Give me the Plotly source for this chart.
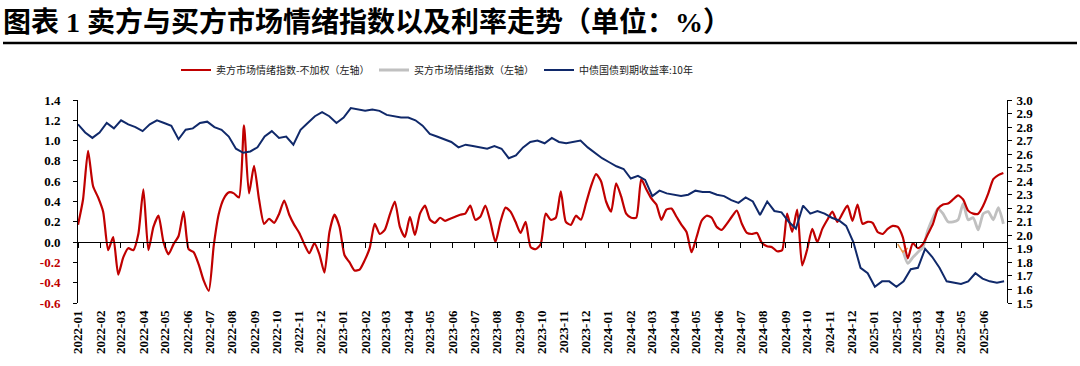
import pandas as pd
import plotly.graph_objects as go

# ---------------- data ----------------
title_text = "图表 1 卖方与买方市场情绪指数以及利率走势（单位：%）"
seller_name = "卖方市场情绪指数-不加权（左轴）"
buyer_name = "买方市场情绪指数（左轴）"
yield_name = "中债国债到期收益率:10年"

# weekly seller sentiment index (left axis)
seller_dates = pd.date_range("2022-01-01", "2025-06-28", periods=185)
seller_values = [
    0.17, 0.42, 0.90, 0.55, 0.44, 0.30, -0.08, 0.05, -0.32, -0.15,
    -0.06, -0.08, 0.08, 0.52, -0.08, 0.15, 0.26, 0.00, -0.12, -0.02,
    0.06, 0.30, -0.07, -0.10, -0.22, -0.38, -0.48, -0.03, 0.28, 0.43,
    0.49, 0.48, 0.44, 1.15, 0.48, 0.75, 0.42, 0.18, 0.23, 0.19,
    0.28, 0.41, 0.27, 0.17, 0.09, -0.02, -0.11, -0.01, -0.12, -0.30,
    0.10, 0.27, 0.15, -0.13, -0.20, -0.28, -0.27, -0.18, -0.06, 0.18,
    0.08, 0.12, 0.27, 0.40, 0.15, 0.05, 0.25, 0.07, 0.28, 0.36,
    0.22, 0.19, 0.24, 0.21, 0.23, 0.25, 0.27, 0.28, 0.36, 0.22,
    0.25, 0.36, 0.20, 0.00, 0.20, 0.34, 0.30, 0.20, 0.09, 0.20,
    -0.05, -0.07, -0.02, 0.28, 0.22, 0.24, 0.50, 0.20, 0.17, 0.26,
    0.22, 0.38, 0.55, 0.67, 0.60, 0.40, 0.30, 0.58, 0.45, 0.28,
    0.24, 0.24, 0.62, 0.52, 0.43, 0.37, 0.22, 0.32, 0.33, 0.25,
    0.17, 0.10, -0.10, 0.05, 0.21, 0.26, 0.24, 0.15, 0.12, 0.18,
    0.25, 0.31, 0.18, 0.09, 0.08, 0.09, -0.01, -0.04, -0.05, -0.09,
    -0.08, 0.28, 0.10, 0.32, -0.23, -0.07, 0.13, 0.00, 0.13, 0.22,
    0.30, 0.20, 0.28, 0.36, 0.21, 0.37, 0.18, 0.20, 0.19, 0.10,
    0.08, 0.13, 0.16, 0.15, 0.05, -0.16, -0.01, -0.06, -0.02, 0.08,
    0.18, 0.33, 0.37, 0.38, 0.42, 0.46, 0.42, 0.31, 0.28, 0.28,
    0.36, 0.48, 0.62, 0.66, 0.68,
]

# buyer sentiment index (left axis), starts in Feb 2025
buyer_dates = seller_dates[164:]
buyer_values = [
    -0.08, -0.21, -0.15, -0.10, -0.05, 0.12, 0.24, 0.33, 0.28, 0.20,
    0.20, 0.22, 0.38, 0.22, 0.24, 0.12, 0.28, 0.30, 0.22, 0.34,
    0.18,
]

# small unlabeled orange fragment
extra_dates = seller_dates[163:166]
extra_values = [-0.02, -0.10, -0.06]

# 10Y CGB yield (right axis)
yield_dates = pd.date_range("2022-01-01", "2025-06-29", periods=130)
yield_values = [
    2.82, 2.76, 2.72, 2.76, 2.83, 2.79, 2.85, 2.82, 2.80, 2.77,
    2.82, 2.85, 2.83, 2.81, 2.71, 2.78, 2.79, 2.83, 2.84, 2.80,
    2.78, 2.73, 2.64, 2.61, 2.62, 2.65, 2.73, 2.77, 2.72, 2.73,
    2.67, 2.78, 2.83, 2.88, 2.91, 2.88, 2.83, 2.87, 2.94, 2.93,
    2.92, 2.93, 2.92, 2.89, 2.88, 2.87, 2.87, 2.85, 2.81, 2.75,
    2.73, 2.71, 2.69, 2.65, 2.67, 2.66, 2.65, 2.64, 2.66, 2.64,
    2.57, 2.59, 2.65, 2.69, 2.70, 2.68, 2.72, 2.69, 2.68, 2.69,
    2.70, 2.65, 2.61, 2.57, 2.54, 2.51, 2.49, 2.42, 2.44, 2.41,
    2.29, 2.33, 2.31, 2.30, 2.29, 2.30, 2.33, 2.32, 2.32, 2.30,
    2.29, 2.26, 2.24, 2.28, 2.25, 2.15, 2.25, 2.18, 2.17, 2.10,
    2.05, 2.22, 2.16, 2.18, 2.16, 2.13, 2.11, 2.07, 1.95, 1.76,
    1.72, 1.62, 1.66, 1.66, 1.62, 1.66, 1.75, 1.76, 1.90, 1.84,
    1.76, 1.66, 1.65, 1.64, 1.66, 1.72, 1.68, 1.66, 1.65, 1.66,
]

left_tick_vals = [-0.6, -0.4, -0.2, 0.0, 0.2, 0.4, 0.6, 0.8, 1.0, 1.2, 1.4]
right_tick_vals = [1.5, 1.6, 1.7, 1.8, 1.9, 2.0, 2.1, 2.2, 2.3, 2.4, 2.5, 2.6, 2.7, 2.8, 2.9, 3.0]
month_ticks = pd.date_range("2022-01-01", "2025-06-01", freq="MS")
x_start, x_end = "2022-01-01", "2025-07-03"

# ---------------- styling ----------------
RED = "#C00000"
NAVY = "#10296A"
GRAY = "#C0C0C0"
SERIF = "Liberation Serif, Times New Roman, serif"
CJK = "Noto Sans CJK SC, sans-serif"

W, H = 1080, 366
L, R, T, B = 78, 73, 100, 63
pw, ph = W - L - R, H - T - B


def px_x(p):
    return (p - L) / pw


def px_y(p):
    return (H - B - p) / ph


left_tick_text = [
    (f"<span style='color:{RED}'>{v:.1f}</span>" if v < 0 else f"{v:.1f}")
    for v in left_tick_vals
]

fig = go.Figure()

fig.add_trace(go.Scatter(
    x=yield_dates, y=yield_values, name=yield_name, mode="lines",
    line=dict(color=NAVY, width=2), yaxis="y2", legend="legend3",
))
fig.add_trace(go.Scatter(
    x=buyer_dates, y=buyer_values, name=buyer_name, mode="lines",
    line=dict(color=GRAY, width=2.8, shape="spline", smoothing=0.6), legend="legend2",
))
fig.add_trace(go.Scatter(
    x=extra_dates, y=extra_values, mode="lines", showlegend=False,
    line=dict(color="#ED9A4A", width=1.5),
))
fig.add_trace(go.Scatter(
    x=seller_dates, y=seller_values, name=seller_name, mode="lines",
    line=dict(color=RED, width=2.2, shape="spline", smoothing=0.6), legend="legend",
))
# helper trace carrying the zero-line tick axis
fig.add_trace(go.Scatter(
    x=[], y=[], xaxis="x2", yaxis="y", showlegend=False, hoverinfo="skip",
))

axis_font = dict(family=SERIF, size=13, color="black", weight="bold")

fig.update_layout(
    width=W, height=H,
    margin=dict(l=L, r=R, t=T, b=B, autoexpand=False),
    paper_bgcolor="white", plot_bgcolor="white",
    xaxis=dict(
        type="date", range=[x_start, x_end],
        tickvals=month_ticks, tickformat="%Y-%m", tickangle=-90,
        ticks="", showline=False, showgrid=False, zeroline=False,
        tickfont=axis_font, ticklabelstandoff=4,
        automargin=False,
    ),
    xaxis2=dict(
        type="date", range=[x_start, x_end], overlaying="x", anchor="free",
        position=0.3, side="bottom",
        tickvals=month_ticks,
        ticks="outside", ticklen=5, tickwidth=1, tickcolor="black",
        showticklabels=False, showline=True, linecolor="black", linewidth=1,
        showgrid=False, zeroline=False, automargin=False,
    ),
    yaxis=dict(
        range=[-0.6, 1.4], tickvals=left_tick_vals, ticktext=left_tick_text,
        ticks="outside", ticklen=4, tickcolor="black",
        showline=True, linecolor="black", linewidth=1,
        showgrid=False, zeroline=False, tickfont=axis_font, ticklabelstandoff=10,
        automargin=False,
    ),
    yaxis2=dict(
        range=[1.5, 3.0], tickvals=right_tick_vals,
        ticktext=[f"{v:.1f}" for v in right_tick_vals],
        overlaying="y", side="right", anchor="x",
        ticks="outside", ticklen=4, tickcolor="black",
        showline=True, linecolor="black", linewidth=1,
        showgrid=False, zeroline=False, tickfont=axis_font, ticklabelstandoff=2,
        automargin=False,
    ),
    showlegend=True,
)

legend_common = dict(
    orientation="h", xanchor="left", yanchor="middle",
    font=dict(family=CJK, size=10, color="#222222"),
    bgcolor="rgba(0,0,0,0)", borderwidth=0, itemwidth=30,
)
fig.update_layout(
    legend=dict(x=px_x(176), y=px_y(70), **legend_common),
    legend2=dict(x=px_x(374), y=px_y(70), **legend_common),
    legend3=dict(x=px_x(539), y=px_y(70), **legend_common),
)

fig.add_annotation(
    text=title_text, xref="paper", yref="paper",
    x=px_x(1), y=px_y(22), xanchor="left", yanchor="middle", showarrow=False,
    font=dict(family="Liberation Serif, Noto Sans CJK SC", size=28, color="black", weight="bold"),
)
fig.add_shape(
    type="line", xref="paper", yref="paper",
    x0=px_x(3), x1=px_x(1077), y0=px_y(43), y1=px_y(43),
    line=dict(color="black", width=2.5),
)

fig.write_html(
    "out.html",
    config={"displayModeBar": False},
    post_script="document.body.style.margin='0px';document.body.style.overflow='hidden';",
)
